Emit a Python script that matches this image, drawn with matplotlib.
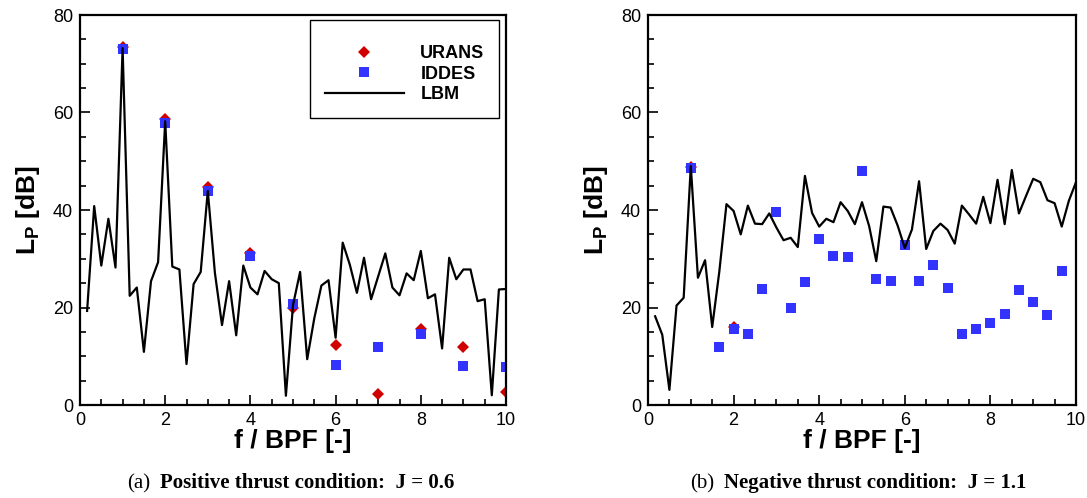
import numpy as np
import matplotlib
matplotlib.use("Agg")
import matplotlib.pyplot as plt

plt.rcParams['font.family'] = ['Liberation Sans', 'DejaVu Sans']
plt.rcParams['mathtext.fontset'] = 'custom'
plt.rcParams['mathtext.bf'] = 'Liberation Sans:bold'
plt.rcParams['mathtext.rm'] = 'Liberation Sans'

# LBM spectra, resolved every 1/6 BPF
lbm_f = np.arange(1, 61) / 6.0
lbm_a = [19.3, 40.8, 28.6, 38.2, 28.2, 73.2, 22.4, 24.1, 10.9, 25.4,
         29.3, 58.2, 28.4, 27.8, 8.4, 24.8, 27.3, 43.9, 27.1, 16.4,
         25.4, 14.3, 28.6, 24.1, 22.7, 27.5, 25.8, 25.0, 1.9, 20.5,
         27.3, 9.4, 17.8, 24.5, 25.6, 13.8, 33.3, 28.8, 23.0, 30.2,
         21.7, 26.4, 31.1, 24.1, 22.5, 27.0, 25.6, 31.6, 21.9, 22.7,
         11.6, 30.2, 25.8, 27.8, 27.8, 21.3, 21.7, 2.0, 23.7, 23.8]
lbm_b = [18.2, 14.4, 3.1, 20.4, 22.0, 49.0, 26.1, 29.7, 16.0, 27.4,
         41.2, 39.8, 35.0, 40.9, 37.2, 37.1, 39.3, 36.4, 33.8, 34.3,
         32.4, 47.0, 39.4, 36.6, 38.2, 37.5, 41.6, 39.8, 37.1, 41.6,
         36.7, 29.5, 40.7, 40.5, 36.8, 32.2, 36.0, 45.9, 32.0, 35.7,
         37.2, 35.9, 33.1, 40.9, 39.1, 37.2, 42.7, 37.3, 46.2, 37.1,
         48.2, 39.3, 42.9, 46.4, 45.7, 42.0, 41.4, 36.6, 41.9, 45.7]

# positive thrust (J = 0.6), tonal peaks at BPF harmonics
harm_a = [1, 2, 3, 4, 5, 6, 7, 8, 9, 10]
urans_a = [73.5, 58.7, 44.7, 31.2, 19.8, 12.3, 2.2, 15.5, 12.0, 2.7]
iddes_a = [73.0, 57.8, 43.9, 30.5, 20.8, 8.3, 11.8, 14.5, 8.1, 7.7]

# negative thrust (J = 1.1)
urans_b_f = [1, 2]
urans_b = [48.8, 16.0]
iddes_b_f = np.array([3, 5, 6, 7, 8, 9, 10, 11, 12, 13, 14, 15, 16, 17,
                      18, 19, 20, 21, 22, 23, 24, 25, 26, 27, 28, 29]) / 3.0
iddes_b = [48.6, 11.9, 15.6, 14.5, 23.7, 39.6, 19.9, 25.2, 34.1, 30.6,
           30.4, 48.1, 25.9, 25.4, 32.9, 25.4, 28.7, 24.0, 14.5, 15.6,
           16.8, 18.7, 23.6, 21.1, 18.4, 27.5]

red = '#d10000'
blue = '#3333ff'

fig = plt.figure(figsize=(10.87, 4.98), dpi=100)
ax1 = fig.add_axes([80 / 1087, 93 / 498, 426 / 1087, 390 / 498])
ax2 = fig.add_axes([648 / 1087, 93 / 498, 428 / 1087, 390 / 498])

ax1.plot(harm_a, urans_a, 'D', color=red, ms=5.8, mew=0, label='URANS')
ax1.plot(harm_a, iddes_a, 's', color=blue, ms=6.5, mew=0, label='IDDES')
ax1.plot(lbm_f, lbm_a, '-', color='black', lw=1.6, label='LBM')

ax2.plot(urans_b_f, urans_b, 'D', color=red, ms=5.8, mew=0)
ax2.plot(iddes_b_f, iddes_b, 's', color=blue, ms=6.5, mew=0)
ax2.plot(lbm_f, lbm_b, '-', color='black', lw=1.6)

for ax in (ax1, ax2):
    ax.set_xlim(0, 10)
    ax.set_ylim(0, 80)
    ax.set_xticks([0, 2, 4, 6, 8, 10])
    ax.set_xticks(np.arange(0, 10.01, 0.5), minor=True)
    ax.set_yticks([0, 20, 40, 60, 80])
    ax.set_yticks(np.arange(0, 80.1, 5), minor=True)
    ax.tick_params(which='both', direction='in', top=False, right=False,
                   width=1.2, labelsize=13)
    ax.tick_params(which='major', length=7, pad=5)
    ax.tick_params(which='minor', length=4.5)
    for s in ax.spines.values():
        s.set_linewidth(1.6)
    ax.set_xlabel('f / BPF [-]', fontsize=19, fontweight='bold', labelpad=0)
    ax.set_ylabel(r'$\mathbf{L_P}$ [dB]', fontsize=19, fontweight='bold',
                  labelpad=8)

leg = ax1.legend(loc='upper right', bbox_to_anchor=(0.9836, 0.987),
                 borderaxespad=0, fancybox=False, framealpha=1,
                 edgecolor='black', handlelength=4.4, handletextpad=0.9,
                 borderpad=0.8, labelspacing=0.2, title=' ',
                 title_fontsize=5,
                 prop={'weight': 'bold', 'size': 13})
leg.get_frame().set_linewidth(1.0)

# sub-figure captions
serif = ['Liberation Serif', 'DejaVu Serif']
for x0, tag, txt in [(127, '(a)', 'Positive thrust condition:  J = 0.6'),
                     (690, '(b)', 'Negative thrust condition:  J = 1.1')]:
    t = fig.text(x0 / 1087, 10 / 498, tag, family=serif, fontsize=15,
                 va='baseline')
    ax1.annotate(txt, xy=(1, 0), xycoords=t, xytext=(7, 0),
                 textcoords='offset points', family=serif, fontsize=15,
                 fontweight='bold', va='bottom', annotation_clip=False)

fig.savefig('out.png', dpi=100)
